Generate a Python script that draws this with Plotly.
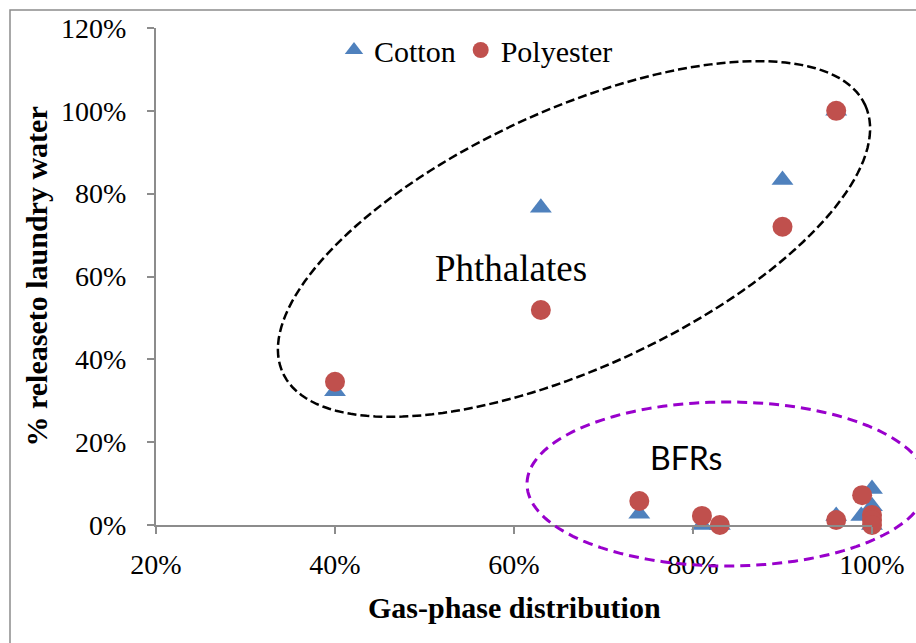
import numpy as np
import plotly.graph_objects as go

# ---- data ----
gas_cotton = [0.40, 0.63, 0.90, 0.96, 0.74, 0.81, 0.83, 0.96, 0.988, 1.00, 1.00, 1.00]
release_cotton = [0.323, 0.766, 0.833, 1.00, 0.027, 0.0, 0.0, 0.022, 0.022, 0.087, 0.045, 0.0]

gas_polyester = [0.40, 0.63, 0.90, 0.96, 0.74, 0.81, 0.83, 0.96, 0.989, 1.00, 1.00, 1.00]
release_polyester = [0.346, 0.519, 0.720, 1.00, 0.058, 0.022, 0.0, 0.012, 0.072, 0.024, 0.012, 0.0]

series_names = ["Cotton", "Polyester"]
x_ticks = [0.2, 0.4, 0.6, 0.8, 1.0]
y_ticks = [0.0, 0.2, 0.4, 0.6, 0.8, 1.0, 1.2]
x_title = "Gas-phase distribution"
y_title = "% releaseto laundry water"
group_labels = ["Phthalates", "BFRs"]

# ---- layout geometry ----
W, H = 916, 643
ML, MR, MT, MB = 156, 44, 28, 118
PW, PH = W - ML - MR, H - MT - MB


def to_paper(px, py):
    return (px - ML) / PW, (H - MB - py) / PH


def ellipse_path(cx, cy, a, b, theta_deg, n=160):
    th = np.radians(theta_deg)
    t = np.linspace(0, 2 * np.pi, n)
    ux, uy = np.cos(th), -np.sin(th)
    vx, vy = np.sin(th), np.cos(th)
    px = cx + a * np.cos(t) * ux + b * np.sin(t) * vx
    py = cy + a * np.cos(t) * uy + b * np.sin(t) * vy
    pts = [to_paper(x, y) for x, y in zip(px, py)]
    return "M " + " L ".join(f"{x:.5f},{y:.5f}" for x, y in pts) + " Z"


FONT = "Liberation Serif"
AXC = "#8c8c8c"

fig = go.Figure()
fig.add_trace(go.Scatter(
    x=gas_cotton, y=release_cotton, mode="markers", name=series_names[0],
    marker=dict(symbol="triangle-up", size=19, color="#4F81BD"), cliponaxis=False))
fig.add_trace(go.Scatter(
    x=gas_polyester, y=release_polyester, mode="markers", name=series_names[1],
    marker=dict(symbol="circle", size=20, color="#C0504D"), cliponaxis=False))

bx0, by1 = to_paper(10, 10)
bx1, by0 = to_paper(930, 660)

fig.update_layout(
    width=W, height=H,
    margin=dict(l=ML, r=MR, t=MT, b=MB, pad=0),
    paper_bgcolor="white", plot_bgcolor="white",
    font=dict(family=FONT, size=28, color="black"),
    showlegend=True,
    legend=dict(orientation="h", x=to_paper(476, 0)[0], xanchor="center",
                y=to_paper(0, 50)[1], yanchor="middle",
                font=dict(family=FONT, size=30, color="black"),
                bgcolor="rgba(0,0,0,0)", itemwidth=30, tracegroupgap=0),
    xaxis=dict(range=[0.2, 1.0], tickvals=x_ticks, tickformat=".0%",
               showgrid=False, zeroline=False, showline=True, linecolor=AXC, linewidth=2,
               ticks="outside", ticklen=7, tickwidth=2, tickcolor=AXC,
               ticklabelstandoff=6, tickfont=dict(family=FONT, size=28, color="black")),
    yaxis=dict(range=[0, 1.2], tickvals=y_ticks, tickformat=".0%",
               showgrid=False, zeroline=False, showline=True, linecolor=AXC, linewidth=2,
               ticks="outside", ticklen=7, tickwidth=2, tickcolor=AXC,
               ticklabelstandoff=15, tickfont=dict(family=FONT, size=28, color="black")),
    shapes=[
        dict(type="rect", xref="paper", yref="paper", x0=bx0, x1=bx1, y0=by0, y1=by1,
             line=dict(color="#8c8c8c", width=1.5), fillcolor="rgba(0,0,0,0)", layer="below"),
        dict(type="path", xref="paper", yref="paper", path=ellipse_path(574, 239, 320.5, 128.8, 24.7),
             line=dict(color="black", width=2.5, dash="9px,4px")),
        dict(type="path", xref="paper", yref="paper", path=ellipse_path(727, 484, 200, 82, 0),
             line=dict(color="#9900CC", width=3, dash="10px,6px")),
    ],
    annotations=[
        dict(text=group_labels[0], x=0.597, y=0.62, xref="x", yref="y", showarrow=False,
             font=dict(family=FONT, size=37, color="black")),
        dict(text=group_labels[1], x=0.792, y=0.164, xref="x", yref="y", showarrow=False,
             font=dict(family="Lato", size=32, color="black")),
        dict(text=f"<b>{x_title}</b>", x=to_paper(514, 0)[0], y=to_paper(0, 607)[1],
             xref="paper", yref="paper", showarrow=False, xanchor="center", yanchor="middle",
             font=dict(family=FONT, size=30, color="black")),
        dict(text=f"<b>{y_title}</b>", x=to_paper(36, 0)[0], y=0.5, textangle=-90,
             xref="paper", yref="paper", showarrow=False, xanchor="center", yanchor="middle",
             font=dict(family=FONT, size=30, color="black")),
    ],
)

fig.write_html("out.html", config={"displayModeBar": False},
               post_script="document.body.style.margin='0';")
